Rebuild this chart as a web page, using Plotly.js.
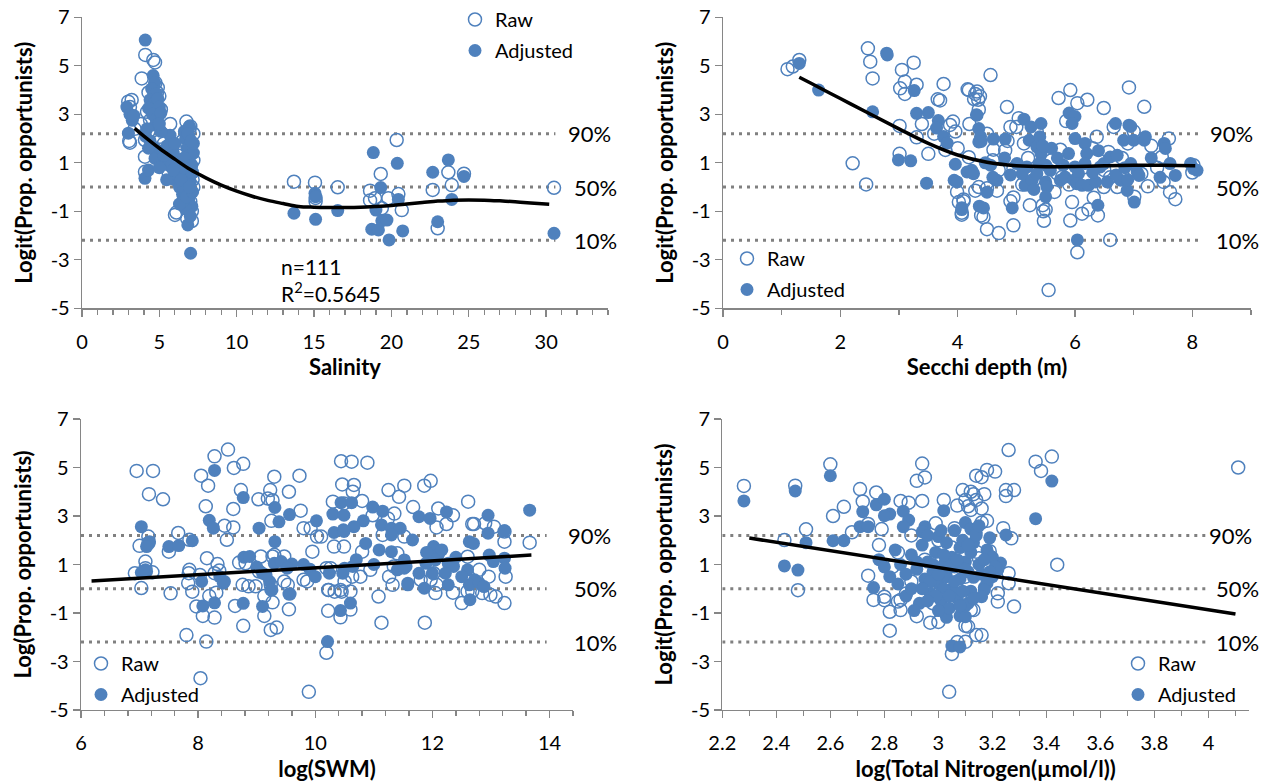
<!DOCTYPE html>
<html>
<head>
<meta charset="utf-8">
<script src="https://cdn.plot.ly/plotly-3.0.1.min.js"></script>
<style>
  html, body { margin: 0; padding: 0; background: #ffffff; }
  #chart { width: 1268px; height: 782px; }
</style>
</head>
<body>
<div id="chart"></div>
<script>
// ---------- Salinity panel ----------
const salinityRaw = [
  [4.09,5.45],[4.61,5.24],[4.72,5.14],[3.86,4.48],[4.75,4.30],[4.9,4.1],[5.0,3.75],[4.3,3.9],[4.5,3.55],
  [2.99,3.52],[3.21,3.59],[3.1,3.3],[5.1,3.2],[4.9,2.95],[4.4,2.75],[3.1,1.83],[4.07,1.94],[4.07,1.25],
  [4.07,0.63],[5.04,2.07],[6.94,2.3],[7.0,2.5],[6.01,-1.15],[6.1,-1.05],[6.5,1.9],[5.8,1.6],[5.5,1.2],
  [6.8,1.8],[7.0,1.5],[7.2,1.1],[6.6,1.0],[7.1,0.6],[6.9,0.3],[7.2,0.0],[6.7,-0.3],[7.0,-0.6],[7.1,-1.0],
  [6.8,-1.3],[6.5,0.5],[6.3,0.2],[6.2,1.3],[5.9,1.25],[5.6,0.6],[5.3,1.8],[4.8,1.5],[4.5,2.3],[4.2,3.1],
  [3.8,2.6],[3.4,2.4],[3.05,1.9],[6.9,-0.8],[7.2,2.2],[6.75,2.7],[7.1,-1.4],[6.6,-0.6],[5.7,2.6],[4.6,3.3],
  [4.85,3.9],[6.85,0.9],[7.15,0.3],
  [13.7,0.22],[15.06,0.18],[15.1,-0.6],[16.53,-0.01],[20.34,1.94],[19.31,0.54],[18.62,-0.15],[18.94,-0.46],
  [19.8,-0.46],[20.45,-0.29],[20.67,-0.95],[19.38,-0.87],[22.67,-0.12],[23.68,0.61],[23.9,0.08],[24.69,0.55],
  [22.99,-1.70],[30.51,-0.03],[18.62,-0.55],[15.1,-0.45]
];
const salinityAdjusted = [
  [4.09,6.06],[4.6,4.6],[4.7,4.3],[4.5,4.05],[4.8,3.85],[4.4,3.6],[4.65,3.45],[4.9,3.65],[5.0,3.3],[4.3,3.25],
  [4.55,3.0],[4.8,2.8],[5.1,3.05],[4.75,2.55],[2.9,3.3],[3.1,3.0],[3.0,2.22],[3.25,2.75],[3.35,2.95],[4.1,2.1],
  [4.4,1.9],[4.7,1.6],[4.9,1.3],[4.72,1.18],[5.2,1.5],[5.4,1.1],[5.6,0.9],[4.07,0.36],[4.3,0.7],[5.0,0.8],
  [5.69,2.14],[5.5,1.7],[5.9,1.4],[6.1,1.0],[6.2,0.6],[6.0,0.3],[6.3,0.0],[6.5,-0.3],[6.62,2.3],[6.7,2.0],
  [6.8,1.6],[6.9,1.3],[7.0,1.0],[6.7,0.7],[6.8,0.4],[7.0,0.2],[6.6,-0.1],[6.9,-0.5],[7.1,-0.8],[6.7,-0.9],
  [6.84,-1.56],[7.02,-2.73],[6.5,-0.6],[7.1,0.6],[7.2,1.4],[7.0,-1.2],[6.4,0.3],[6.95,2.5],[7.2,1.8],[6.3,-0.7],
  [6.85,2.2],[7.05,1.9],[6.6,1.2],[6.75,-0.4],[7.15,-0.2],[7.1,0.9],[6.95,0.0],[6.55,0.8],[5.8,1.0],[5.3,1.3],
  [6.0,1.8],[4.3,1.6],[5.1,2.3],[4.2,2.4],[5.0,2.6],[5.47,0.3],[5.9,0.7],
  [13.7,-1.08],[15.06,-0.26],[15.1,-0.4],[15.1,-1.33],[16.53,-0.97],[18.83,1.42],[20.38,0.98],[19.31,-0.02],
  [20.45,-0.51],[19.0,-0.95],[18.73,-1.74],[19.16,-1.77],[19.38,-1.39],[19.71,-1.36],[19.85,-2.18],[20.73,-1.81],
  [22.67,0.61],[23.68,1.12],[23.9,-0.51],[24.69,0.44],[22.99,-1.43],[30.51,-1.91]
];
const salFitX = [3.4,4,5,6,7,8,9,10,11,12,13,14,15,16,17,18,19,20,21,22,23,24,25,26,27,28,29,30.2];
const salFitY = [2.42,2.1,1.6,1.15,0.72,0.38,0.08,-0.17,-0.38,-0.55,-0.68,-0.80,-0.83,-0.84,-0.84,-0.83,-0.80,
                 -0.76,-0.70,-0.64,-0.58,-0.54,-0.53,-0.54,-0.57,-0.61,-0.66,-0.71];
const salRefSpan = [0, 30.6];
const salTicks = [0,5,10,15,20,25,30];
const salTickText = ['0','5','10','15','20','25','30'];

// ---------- Secchi depth panel ----------
const secchiRaw = [
  [1.10,4.86],[1.19,4.97],[1.30,5.24],[2.47,5.72],[2.51,5.17],[2.55,4.48],[3.05,4.83],[3.25,5.13],[3.02,4.07],
  [3.1,4.35],[3.1,3.84],[3.3,4.22],[3.76,4.25],[3.66,3.62],[3.70,3.57],[3.01,2.52],[3.39,2.6],[3.3,2.05],
  [3.87,2.56],[3.92,2.7],[3.96,2.29],[3.79,1.53],[3.5,1.37],[2.21,0.98],[2.44,0.11],[3.01,1.37],[3.99,-0.2],
  [4.02,-0.62],[4.1,-0.51],[4.07,-1.06],[4.19,4.0],[4.3,3.84],[4.28,3.63],[4.35,3.6],[4.19,1.23],[4.3,-0.15],
  [4.4,-1.17],[4.56,4.62],[4.17,4.03],[4.33,3.94],[4.38,3.74],[4.36,3.19],[4.61,1.54],[4.81,1.51],[4.84,3.3],
  [5.04,2.84],[4.9,2.48],[5.0,2.48],[5.13,1.8],[4.95,0.76],[4.36,0.0],[4.5,-0.05],[4.67,-0.15],[4.44,-1.24],
  [4.5,-1.74],[4.7,-1.9],[4.1,-0.59],[4.07,-1.14],[4.95,-1.58],[4.95,-0.43],[4.9,-0.59],[5.23,-0.75],[5.45,-0.75],
  [5.46,-1.0],[5.47,-1.39],[5.55,-4.25],[5.35,2.27],[5.38,1.8],[5.5,-0.93],[5.72,3.67],[5.75,1.54],[5.7,0.55],
  [5.78,0.41],[5.92,4.0],[6.04,3.46],[6.21,3.6],[5.85,2.72],[5.92,-1.38],[5.95,-0.62],[6.04,-2.69],[6.12,-1.1],
  [6.23,-0.93],[6.32,-0.44],[6.39,-1.17],[6.49,3.26],[6.37,2.07],[6.57,1.45],[6.66,2.48],[6.92,4.11],[7.18,3.31],
  [6.72,0.0],[6.6,-2.18],[7.01,-0.4],[7.01,0.69],[7.13,0.55],[7.24,0.03],[7.48,1.24],[7.51,0.21],[7.62,-0.21],
  [7.71,-0.5],[8.02,0.9],[6.49,0.0],[5.2,1.2],[5.6,1.1],[6.3,1.6],[6.8,1.2],[7.3,1.7],[7.0,2.3],[5.3,0.3],
  [4.7,0.7],[6.5,0.7],[7.4,0.8],[4.5,2.2],[4.85,1.9],[5.9,0.1],[6.2,0.3],[3.6,2.2],[4.0,1.6],[4.2,2.6],
  [6.9,1.8],[7.6,2.0],[8.0,0.6],[5.1,0.1],[5.65,-0.2],[6.6,0.4],[4.6,1.1]
];
const secchiAdjusted = [
  [1.30,5.1],[1.63,4.0],[2.79,5.52],[2.80,5.45],[3.26,3.98],[3.30,3.04],[3.5,3.07],[2.55,3.1],[3.67,2.74],
  [3.64,2.43],[3.76,2.08],[3.82,1.81],[2.99,1.12],[3.2,1.08],[3.47,0.16],[3.96,0.94],[3.94,0.28],[3.99,0.21],
  [4.07,-0.85],[4.33,2.96],[4.36,2.41],[4.36,1.86],[4.16,0.62],[4.24,0.69],[4.37,-0.79],[4.32,2.98],[4.39,2.08],
  [4.4,1.88],[4.61,1.98],[4.81,1.98],[5.13,2.8],[5.01,0.97],[5.18,0.83],[4.27,0.55],[4.47,1.0],[4.56,0.9],
  [4.67,0.28],[4.5,-0.21],[4.44,-0.86],[4.07,-0.93],[4.93,-0.86],[5.15,0.07],[5.1,0.55],[5.27,0.28],[5.35,0.55],
  [5.25,2.48],[5.42,2.62],[5.22,1.93],[5.35,1.66],[5.42,1.38],[5.4,2.07],[5.39,0.97],[5.5,0.9],[5.58,0.69],
  [5.5,0.21],[5.52,0.01],[5.5,-0.4],[5.75,0.28],[5.83,0.41],[5.98,0.28],[5.9,3.05],[6.0,2.91],[5.95,2.62],
  [6.0,2.0],[6.17,1.8],[6.2,1.38],[6.17,0.97],[6.0,0.83],[6.06,0.55],[6.03,0.14],[6.12,0.07],[5.89,1.38],
  [6.04,-2.18],[6.39,-0.75],[6.23,0.07],[6.35,0.21],[6.43,0.83],[6.49,0.97],[6.6,1.24],[6.72,1.31],[6.69,2.62],
  [6.83,1.93],[7.0,1.93],[7.18,1.93],[7.2,2.07],[6.92,2.55],[6.95,2.5],[6.55,0.21],[6.78,0.28],[6.89,-0.14],
  [7.01,-0.62],[6.95,0.97],[7.06,0.62],[7.09,0.48],[7.52,1.8],[7.54,1.59],[7.62,0.97],[7.71,0.48],[7.97,0.97],
  [8.02,0.76],[8.08,0.69],[4.8,1.2],[5.6,1.6],[6.3,0.6],[6.7,0.5],[7.3,1.2],[7.45,0.4],[5.8,0.9],[4.6,0.4],
  [5.3,-0.1],[6.9,0.3],[5.7,1.2],[6.4,1.5],[4.9,0.5],[5.45,1.7],[6.85,0.8]
];
const secFitX = [1.3,1.5,2,2.5,3,3.5,4,4.5,5,5.5,6,6.5,7,7.5,8.05];
const secFitY = [4.53,4.28,3.65,3.02,2.4,1.8,1.32,1.02,0.88,0.84,0.85,0.88,0.9,0.9,0.88];
const secRefSpan = [0, 8.1];
const secTicks = [0,2,4,6,8];
const secTickText = ['0','2','4','6','8'];

// ---------- SWM panel ----------
const swmRaw = [
  [6.95,4.86],[7.23,4.86],[7.16,3.9],[7.4,3.69],[7.15,2.15],[7.15,1.88],[7.0,1.77],[7.1,1.12],[7.1,0.85],
  [6.92,0.64],[7.22,0.68],[7.03,0.03],[7.5,1.53],[7.66,2.3],[7.85,2.02],[7.53,-0.19],[7.85,0.78],[7.84,0.64],
  [7.83,0.23],[7.9,-0.12],[7.8,-1.91],[8.04,-3.69],[8.14,-2.18],[7.97,-0.73],[8.03,0.57],[8.15,1.26],[8.33,1.02],
  [8.05,4.66],[8.17,4.25],[8.28,5.46],[8.51,5.74],[8.13,3.4],[8.45,2.6],[8.49,2.02],[8.6,2.53],[8.6,3.29],
  [8.08,-1.12],[8.28,-1.19],[8.19,-0.3],[8.31,-0.16],[8.28,0.64],[8.36,0.75],[8.61,4.98],[8.77,5.15],[8.73,4.07],
  [9.03,3.69],[9.23,4.07],[9.3,4.62],[9.19,3.72],[9.27,3.65],[9.55,4.0],[9.73,4.66],[9.75,3.22],[9.25,2.8],
  [8.81,1.05],[8.7,1.08],[8.63,-0.71],[8.77,-1.53],[8.76,0.16],[8.86,0.1],[8.98,0.1],[9.13,-0.3],[9.24,0.16],
  [9.13,-1.12],[9.24,-1.7],[9.34,-1.6],[9.27,-0.56],[9.27,1.33],[9.3,1.4],[9.47,1.33],[9.47,0.3],[9.53,0.16],
  [9.55,-0.85],[9.04,0.71],[9.07,1.33],[9.8,2.5],[9.92,2.5],[10.03,2.15],[10.1,2.15],[9.95,1.53],[9.86,0.3],
  [9.8,0.37],[10.19,0.85],[10.22,-0.05],[10.22,-0.91],[10.19,-2.64],[9.89,-4.25],[10.32,1.74],[10.3,3.59],
  [10.44,5.26],[10.46,4.3],[10.26,0.85],[10.23,-0.05],[10.33,-0.12],[10.43,-1.18],[10.5,0.3],[10.45,-0.12],
  [10.62,5.24],[10.89,5.2],[10.66,4.28],[10.64,4.0],[10.49,3.52],[10.8,3.62],[10.98,3.03],[11.25,4.07],
  [11.43,3.79],[11.52,4.25],[11.24,2.9],[11.35,3.1],[11.15,2.22],[11.52,2.15],[10.49,1.74],[10.8,1.53],
  [11.67,3.37],[11.86,4.25],[11.97,4.45],[11.4,1.46],[11.34,0.92],[11.26,0.5],[11.32,0.16],[10.94,0.78],
  [10.77,0.5],[10.63,0.5],[10.6,-0.11],[10.43,-0.05],[10.6,-0.86],[11.08,-0.32],[11.13,-1.4],[11.87,-1.4],
  [11.8,0.37],[11.97,0.37],[12.05,-0.18],[12.07,2.53],[12.1,3.31],[12.24,2.67],[12.35,3.03],[12.61,3.59],
  [12.68,2.67],[12.6,1.32],[12.07,0.16],[12.35,-0.16],[12.02,0.64],[12.5,-0.59],[12.6,-0.11],[12.68,-0.11],
  [12.85,-0.18],[12.99,-0.25],[13.08,-0.32],[13.23,-0.59],[12.8,0.78],[12.96,0.5],[12.9,2.7],[12.71,2.67],
  [13.23,2.36],[13.23,1.94],[13.25,0.5],[13.66,1.9],[13.05,2.56]
];
const swmAdjusted = [
  [7.03,2.56],[7.17,1.94],[7.12,1.74],[7.03,0.67],[7.12,0.71],[7.1,0.78],[7.5,1.74],[7.67,1.78],[7.9,1.98],
  [8.06,0.3],[8.28,4.88],[8.19,2.82],[8.26,2.5],[8.08,-0.71],[8.28,-0.58],[8.37,0.5],[8.43,0.23],[8.45,0.3],
  [8.77,3.76],[9.31,3.35],[9.38,2.76],[9.56,3.06],[9.04,2.5],[9.31,1.94],[8.78,1.3],[8.88,1.33],[8.77,-0.6],
  [9.1,0.64],[9.22,0.3],[9.16,0.57],[9.24,-0.05],[9.26,-0.05],[9.1,-0.73],[9.3,1.05],[9.42,1.12],[9.6,1.02],
  [9.52,0.85],[9.55,-0.22],[9.57,-0.22],[9.91,0.8],[10.02,2.8],[10.21,-2.18],[10.32,2.32],[10.3,3.08],
  [10.44,3.55],[10.48,2.43],[10.24,0.64],[10.43,-0.9],[10.5,0.85],[10.62,3.55],[10.49,3.03],[10.98,3.37],
  [11.15,3.2],[10.82,2.8],[10.66,2.56],[10.49,2.36],[11.13,2.63],[11.3,2.49],[11.45,2.49],[11.3,2.22],
  [10.86,1.87],[11.09,1.6],[11.3,1.53],[11.66,2.01],[11.77,2.97],[11.96,2.9],[11.52,1.19],[11.55,0.92],
  [11.58,0.23],[11.58,0.16],[11.4,0.78],[11.52,0.85],[10.64,0.92],[10.47,0.64],[10.6,-0.59],[11.77,0.64],
  [11.86,0.02],[11.89,1.05],[12.0,0.64],[12.02,1.74],[12.1,1.39],[12.16,1.6],[12.05,1.19],[12.24,3.17],
  [12.63,1.94],[12.7,1.87],[12.27,1.05],[12.36,0.92],[12.22,0.64],[12.27,0.16],[12.6,0.78],[12.72,0.37],
  [12.63,0.16],[12.8,0.23],[12.88,0.09],[12.64,-0.45],[12.95,3.03],[12.95,2.29],[12.97,1.39],[13.04,1.12],
  [13.23,2.39],[13.23,1.26],[13.24,0.85],[13.66,3.24],[9.8,1.0],[10.0,0.5],[11.0,1.0],[12.4,1.3],[11.9,1.5],
  [12.5,0.5],[9.0,0.9],[10.7,1.2]
];
const swmFitX = [6.18, 13.69];
const swmFitY = [0.32, 1.39];
const swmRefSpan = [6, 13.95];
const swmTicks = [6,8,10,12,14];
const swmTickText = ['6','8','10','12','14'];

// ---------- Total nitrogen panel ----------
const nitrogenRaw = [
  [2.28,4.24],[2.47,4.25],[2.6,5.13],[2.43,2.01],[2.48,-0.06],[2.51,2.45],[2.61,3.0],[2.65,3.38],[2.68,2.33],
  [2.71,4.11],[2.72,3.6],[2.74,2.67],[2.77,3.97],[2.79,2.46],[2.74,0.54],[2.76,-0.46],[2.8,-0.33],[2.8,-0.47],
  [2.82,-0.95],[2.82,-1.73],[2.85,-0.53],[2.86,-0.88],[2.86,-0.46],[2.86,3.62],[2.89,3.55],[2.92,4.45],[2.95,4.59],
  [2.94,5.16],[2.94,3.62],[2.99,2.7],[3.02,3.66],[2.92,-1.13],[2.97,-1.4],[3.0,-1.37],[3.1,-1.53],[3.05,-2.69],
  [3.07,-2.2],[3.04,-4.25],[3.09,4.07],[3.13,3.9],[3.1,3.66],[3.07,3.43],[3.14,4.66],[3.18,4.9],[3.12,3.25],
  [3.16,2.73],[3.14,-1.91],[3.12,-0.87],[3.14,1.53],[3.15,1.26],[3.26,5.72],[3.36,5.24],[3.42,5.45],[3.38,4.86],
  [3.21,4.83],[3.16,4.6],[3.28,4.07],[3.25,4.07],[3.25,3.82],[3.17,3.9],[3.14,3.66],[3.12,4.0],[3.16,3.31],
  [3.11,3.4],[3.24,2.5],[3.27,2.08],[3.18,2.8],[3.19,1.55],[3.19,1.33],[3.26,0.64],[3.26,0.23],[3.22,-0.53],
  [3.28,-0.73],[3.22,-0.19],[3.44,0.99],[3.13,-0.88],[3.11,-1.56],[3.16,-1.91],[3.1,-2.19],[4.11,5.0],
  [2.9,0.3],[2.95,1.2],[3.0,0.1],[3.05,1.7],[2.85,1.5],[2.9,2.2],[2.98,-0.6],[3.03,0.8],[3.08,-0.3],
  [2.83,0.9],[3.0,2.0],[3.1,0.5],[2.88,-0.2],[2.78,1.8],[3.06,2.5]
];
const nitrogenAdjusted = [
  [2.28,3.62],[2.47,4.03],[2.6,4.66],[2.43,0.94],[2.48,0.77],[2.51,1.9],[2.61,1.98],[2.65,1.98],[2.72,3.18],
  [2.71,2.56],[2.74,2.56],[2.77,3.46],[2.8,3.69],[2.82,3.08],[2.8,3.01],[2.76,0.05],[2.87,3.2],[2.89,2.83],
  [2.87,2.56],[2.95,2.56],[2.94,2.35],[3.02,3.22],[3.0,2.15],[3.03,-1.18],[3.08,-1.12],[3.05,-2.36],[3.1,2.73],
  [3.12,2.46],[3.14,2.32],[3.13,0.47],[3.17,0.05],[3.42,4.44],[3.36,2.89],[3.25,2.22],[3.23,1.06],[3.22,0.78],
  [3.2,0.5],[3.18,0.23],[3.17,-0.05],[3.16,-0.33],[3.11,-0.6],[3.1,-1.15],[3.08,-2.4],
  [2.78,1.2],[2.8,0.9],[2.82,0.5],[2.84,1.6],[2.85,0.2],[2.86,1.0],[2.88,-0.3],[2.88,0.6],[2.9,1.4],[2.9,0.0],
  [2.92,0.8],[2.93,-0.6],[2.94,1.8],[2.95,0.4],[2.96,1.1],[2.97,-0.2],[2.98,0.7],[2.99,1.5],[3.0,0.2],
  [3.01,-0.5],[3.02,1.0],[3.03,0.5],[3.04,-0.8],[3.05,1.3],[3.05,0.0],[3.06,0.9],[3.07,-0.4],[3.08,1.7],
  [3.08,0.4],[3.09,2.0],[3.1,1.1],[3.11,0.7],[3.12,1.5],[3.13,1.9],[3.14,2.2],[3.15,1.0],[3.16,0.6],[3.18,1.6],
  [3.19,2.1],[3.2,1.3],[3.21,0.9],[2.96,2.2],[3.06,2.4],[2.91,-0.9],[3.0,-0.9],[3.1,-0.7],[3.12,-0.1],
  [2.97,0.3],[3.0,0.6],[3.02,0.0],[3.04,0.9],[3.06,0.3],[3.07,1.2],[3.09,-0.1],[3.1,0.8],[3.02,1.4],[2.99,-0.3],
  [2.96,-0.5],[3.04,-0.3],[3.11,1.8],[3.15,2.6],[3.17,1.2],[3.03,1.9],[2.98,1.0],[3.13,-0.4],[3.08,-0.7],
  [2.94,0.0],[2.92,1.1],[3.01,2.4],[3.19,0.7]
];
const tnFitX = [2.30, 4.10];
const tnFitY = [2.09, -1.04];
const tnRefSpan = [2.2, 4.0];
const tnTicks = [2.2,2.4,2.6,2.8,3,3.2,3.4,3.6,3.8,4];
const tnTickText = ['2.2','2.4','2.6','2.8','3','3.2','3.4','3.6','3.8','4'];

// ---------- shared ----------
const refLevels = [2.197, 0, -2.197];          // logit of 0.9, 0.5, 0.1
const refLabels = ['90%', '50%', '10%'];
const yTickVals = [7, 5, 3, 1, -1, -3, -5];
const yTickText = ['7', '5', '3', '1', '-1', '-3', '-5'];

// ---------- drawing ----------
const W = 1268, H = 782;
const BLUE = '#4F81BD';
const AXIS = '#868686';
const FONT = 'Lato, "Open Sans", sans-serif';
const xDom = (l, r) => [l / W, r / W];
const yDom = (t, b) => [1 - b / H, 1 - t / H];

// lab: pixel x where the percentile labels start (first label, the rest)
const panels = [
  { n: '',  raw: salinityRaw, adj: salinityAdjusted, fitX: salFitX, fitY: salFitY, span: salRefSpan,
    ticks: salTicks, tickText: salTickText, range: [0, 34], minor: 1, xt: 'Salinity',
    yt: 'Logit(Prop. opportunists)', xd: xDom(82, 608), yd: yDom(17.3, 308.3),
    leg: { x: 455, y: 0 }, lab: [566, 572] },
  { n: '2', raw: secchiRaw, adj: secchiAdjusted, fitX: secFitX, fitY: secFitY, span: secRefSpan,
    ticks: secTicks, tickText: secTickText, range: [0, 9], minor: 1, xt: 'Secchi depth (m)',
    yt: 'Logit(Prop. opportunists)', xd: xDom(723, 1251), yd: yDom(17.3, 308.3),
    leg: { x: 727, y: 239 }, lab: [1208, 1214] },
  { n: '3', raw: swmRaw, adj: swmAdjusted, fitX: swmFitX, fitY: swmFitY, span: swmRefSpan,
    ticks: swmTicks, tickText: swmTickText, range: [6, 14.4], minor: 0.4, xt: 'log(SWM)',
    yt: 'Log(Prop. opportunists)', xd: xDom(81, 573), yd: yDom(419, 710),
    leg: { x: 81, y: 644 }, lab: [566, 572] },
  { n: '4', raw: nitrogenRaw, adj: nitrogenAdjusted, fitX: tnFitX, fitY: tnFitY, span: tnRefSpan,
    ticks: tnTicks, tickText: tnTickText, range: [2.2, 4.15], minor: 0.1, xt: 'log(Total Nitrogen(\u00b5mol/l))',
    yt: 'Logit(Prop. opportunists)', xd: xDom(722.3, 1249), yd: yDom(419, 710),
    leg: { x: 1118, y: 644 }, lab: [1207, 1214] }
];

const traces = [];
const layout = {
  width: W, height: H,
  margin: { l: 0, r: 0, t: 0, b: 0 },
  paper_bgcolor: '#ffffff', plot_bgcolor: 'rgba(0,0,0,0)',
  font: { family: FONT, size: 20, color: '#000000' },
  annotations: [],
  showlegend: true
};

panels.forEach((p, i) => {
  const xa = 'x' + p.n, ya = 'y' + p.n;
  const legName = 'legend' + p.n;

  refLevels.forEach(lv => {
    traces.push({
      x: p.span, y: [lv, lv], xaxis: xa, yaxis: ya, type: 'scatter', mode: 'lines',
      line: { color: '#808080', width: 3, dash: '3px,5px' }, showlegend: false, hoverinfo: 'skip'
    });
  });

  traces.push({
    x: p.raw.map(d => d[0]), y: p.raw.map(d => d[1]), xaxis: xa, yaxis: ya,
    type: 'scatter', mode: 'markers', name: 'Raw', legend: legName, legendgroup: 'raw' + i,
    marker: { symbol: 'circle-open', size: 13, color: BLUE, line: { width: 1.5, color: BLUE } }
  });
  traces.push({
    x: p.adj.map(d => d[0]), y: p.adj.map(d => d[1]), xaxis: xa, yaxis: ya,
    type: 'scatter', mode: 'markers', name: 'Adjusted', legend: legName, legendgroup: 'adj' + i,
    marker: { symbol: 'circle', size: 13, color: BLUE }
  });
  traces.push({
    x: p.fitX, y: p.fitY, xaxis: xa, yaxis: ya, type: 'scatter', mode: 'lines',
    line: { color: '#000000', width: 3.5, shape: 'spline' }, showlegend: false, hoverinfo: 'skip'
  });

  layout['xaxis' + p.n] = {
    domain: p.xd, anchor: ya, range: p.range, showgrid: false, zeroline: false,
    showline: true, linecolor: AXIS, linewidth: 1.3,
    tickmode: 'array', tickvals: p.ticks, ticktext: p.tickText,
    ticks: 'outside', ticklen: 7, tickcolor: AXIS, tickwidth: 1.3, ticklabelstandoff: 8,
    tickfont: { family: FONT, size: 20, color: '#000000' },
    minor: { tickmode: 'linear', tick0: p.range[0], dtick: p.minor, ticks: 'outside', ticklen: 5, tickcolor: AXIS, tickwidth: 1.3 },
    title: { text: p.xt, font: { family: FONT, size: 22, weight: 700, color: '#000000' }, standoff: 8 }
  };
  layout['yaxis' + p.n] = {
    domain: p.yd, anchor: xa, range: [-5, 7], showgrid: false, zeroline: false,
    showline: true, linecolor: AXIS, linewidth: 1.3,
    tickmode: 'array', tickvals: yTickVals, ticktext: yTickText,
    ticks: 'outside', ticklen: 7, tickcolor: AXIS, tickwidth: 1.3,
    tickfont: { family: FONT, size: 20, color: '#000000' },
    title: { text: p.yt, font: { family: FONT, size: 22, weight: 700, color: '#000000' }, standoff: 12 }
  };

  layout[legName] = {
    x: p.leg.x / W, y: 1 - p.leg.y / H, xanchor: 'left', yanchor: 'top',
    bgcolor: 'rgba(0,0,0,0)', borderwidth: 0, tracegroupgap: 2,
    font: { family: FONT, size: 20, color: '#000000' }
  };

  refLevels.forEach((lv, k) => {
    layout.annotations.push({
      xref: 'paper', yref: ya, x: p.lab[k === 0 ? 0 : 1] / W, y: lv, text: refLabels[k],
      xanchor: 'left', yanchor: 'middle', showarrow: false,
      font: { family: FONT, size: 22, color: '#000000' }
    });
  });
});

// fit statistics for the salinity model
layout.annotations.push(
  { xref: 'paper', yref: 'paper', x: 279 / W, y: 1 - 266 / H, text: 'n=111', xanchor: 'left', yanchor: 'middle',
    showarrow: false, font: { family: FONT, size: 21, color: '#000000' } },
  { xref: 'paper', yref: 'paper', x: 279 / W, y: 1 - 292 / H, text: 'R<sup>2</sup>=0.5645', xanchor: 'left', yanchor: 'middle',
    showarrow: false, font: { family: FONT, size: 21, color: '#000000' } }
);

Plotly.newPlot('chart', traces, layout, { displayModeBar: false, staticPlot: true });
</script>
</body>
</html>
